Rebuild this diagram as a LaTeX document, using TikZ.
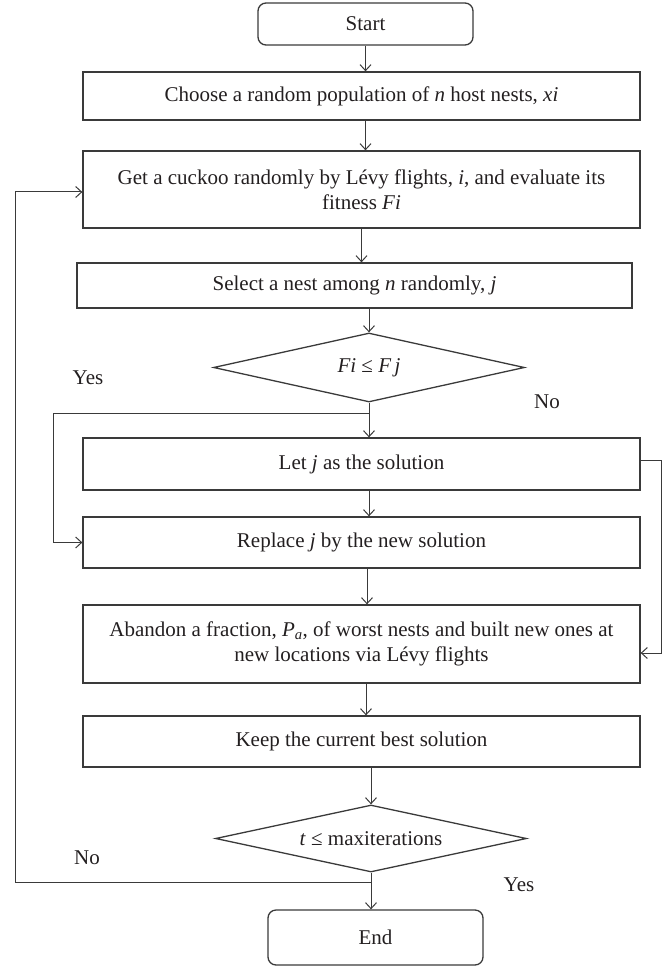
\documentclass[tikz,border=0pt]{standalone}
\usepackage{fontspec}
\setmainfont{Liberation Serif}
\usetikzlibrary{shapes.geometric,arrows.meta}
\definecolor{ln}{HTML}{3A3A3A}
\definecolor{tx}{HTML}{231F20}
\begin{document}
\begin{tikzpicture}[x=1pt,y=-1pt,
  every node/.style={text=tx, font=\fontsize{21}{25}\selectfont},
  box/.style={draw=ln, line width=1.3pt, minimum width=557pt, inner sep=0pt, align=center},
  term/.style={draw=ln, line width=1.3pt, rounded corners=8pt, minimum width=215pt, inner sep=0pt},
  dec/.style={draw=ln, line width=1.3pt, diamond, shape aspect=4.5, minimum width=311pt, inner sep=0pt},
  arr/.style={draw=ln, line width=1pt, -{Straight Barb[length=6pt,width=11pt]}},
  lab/.style={inner sep=0pt}
]
\useasboundingbox (0,0) rectangle (662,968);

\node[term, minimum height=42pt] (start) at (365.5,24) {Start};
\node[box, minimum height=48pt] (choose) at (361.5,96) {Choose a random population of \textit{n} host nests, \textit{xi}};
\node[box, minimum height=77pt] (get) at (361.5,189.5) {Get a cuckoo randomly by Lévy flights, \textit{i}, and evaluate its\\ fitness \textit{Fi}};
\node[box, minimum width=555pt, minimum height=45pt] (select) at (354.5,285.5) {Select a nest among \textit{n} randomly, \textit{j}};
\node[dec, minimum height=69pt] (d1) at (369,367.5) {\textit{Fi} ≤ \textit{F\,j}};
\node[box, minimum height=52pt] (let) at (361.5,464) {Let \textit{j} as the solution};
\node[box, minimum height=51pt] (replace) at (361.5,542.5) {Replace \textit{j} by the new solution};
\node[box, minimum height=78pt] (abandon) at (361.5,644) {Abandon a fraction, \textit{P}\textsubscript{\textit{a}}, of worst nests and built new ones at\\ new locations via Lévy flights};
\node[box, minimum height=51pt] (keep) at (361.5,741.5) {Keep the current best solution};
\node[dec, minimum height=67pt] (d2) at (371,838.5) {\textit{t} ≤ maxiterations};
\node[term, minimum height=55pt] (end) at (375.5,937.5) {End};

\node[lab] (yes1) at (88,378) {Yes};
\node[lab] (no1) at (547,402) {No};
\node[lab] (no2) at (87,858) {No};
\node[lab] (yes2) at (519,885) {Yes};

\coordinate (b1) at (d1.south |- 0,413);
\coordinate (b1l) at (53,413);
\coordinate (b2) at (d2.south |- 0,882);
\coordinate (b2l) at (15,882);
\coordinate (rr) at (661,460);

\draw[arr] (start.south) -- (start.south |- choose.north);
\draw[arr] (start.south |- choose.south) -- (start.south |- get.north);
\draw[arr] (get.south) -- (get.south |- select.north);
\draw[arr] (d1.north |- select.south) -- (d1.north);
\draw[arr] (d1.south) -- (d1.south |- let.north);
\draw[arr] (b1) -- (b1l) -- (b1l |- replace.west) -- (replace.west);
\draw[arr] (d1.south |- let.south) -- (d1.south |- replace.north);
\draw[arr] (replace.south -| 367,0) -- (abandon.north -| 367,0);
\draw[arr] (abandon.south -| 366,0) -- (keep.north -| 366,0);
\draw[arr] (d2.north |- keep.south) -- (d2.north);
\draw[arr] (d2.south) -- (d2.south |- end.north);
\draw[arr] (b2) -- (b2l) -- (b2l |- 0,192) -- (get.west |- 0,192);
\draw[arr] (let.east |- rr) -- (rr) -- (rr |- 0,653) -- (abandon.east |- 0,653);
\end{tikzpicture}
\end{document}
